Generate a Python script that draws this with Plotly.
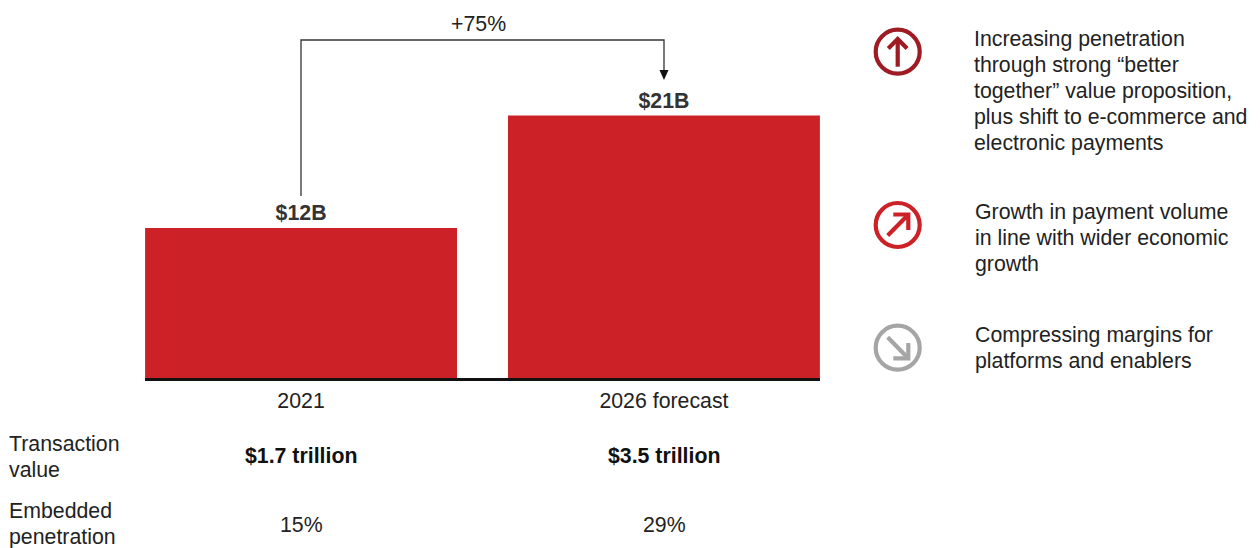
import plotly.graph_objects as go

W, H = 1260, 548

# Chart data
years = ["2021", "2026 forecast"]
revenue_b = [12, 21]
revenue_labels = ["$12B", "$21B"]
growth_label = "+75%"
row_names = [["Transaction", "value"], ["Embedded", "penetration"]]
transaction_value = ["$1.7 trillion", "$3.5 trillion"]
embedded_penetration = ["15%", "29%"]
drivers = [
    ["Increasing penetration", "through strong “better", "together” value proposition,",
     "plus shift to e-commerce and", "electronic payments"],
    ["Growth in payment volume", "in line with wider economic", "growth"],
    ["Compressing margins for", "platforms and enablers"],
]

# Styling
FONT = "Liberation Sans, Arial, sans-serif"
SIZE = 21.3
RED = "#cc2127"
DARK_RED = "#9e1b23"
GRAY = "#a5a5a5"
TEXT = "#222222"
BRACKET = "#333333"
PX_PER_UNIT = 12.5
PLOT_LEFT, PLOT_RIGHT, PLOT_BOTTOM = 145, 820, 378
LINE_GAP = 26


def px(x):
    return x / W


def py(y):
    return 1 - y / H


def line(x0, y0, x1, y1, color, width):
    return dict(type="line", xref="paper", yref="paper",
                x0=px(x0), y0=py(y0), x1=px(x1), y1=py(y1),
                line=dict(color=color, width=width), layer="above")


def label(x, y, text, size=SIZE, bold=False, anchor="center", color=TEXT):
    return dict(xref="paper", yref="paper", x=px(x), y=py(y), text=f"<b>{text}</b>" if bold else text,
                showarrow=False, xanchor=anchor, yanchor="middle", borderpad=0,
                font=dict(family=FONT, size=size, color=color))


def text_block(x, first_y, lines):
    return [label(x, first_y + i * LINE_GAP, t, anchor="left") for i, t in enumerate(lines)]


def ring(cx, cy, color):
    r = 22
    return dict(type="circle", xref="paper", yref="paper",
                x0=px(cx - r), x1=px(cx + r), y0=py(cy - r), y1=py(cy + r),
                line=dict(color=color, width=4.2), fillcolor="rgba(0,0,0,0)", layer="above")


def polyline(points, color, width):
    path = "M " + " L ".join(f"{px(x):.5f},{py(y):.5f}" for x, y in points)
    return dict(type="path", xref="paper", yref="paper", path=path,
                line=dict(color=color, width=width), layer="above")


fig = go.Figure(go.Bar(
    x=years, y=revenue_b, marker=dict(color=RED, line=dict(width=0)),
    text=revenue_labels, textposition="outside", cliponaxis=False,
    textfont=dict(family=FONT, size=SIZE, color="#333333", weight="bold"),
    hoverinfo="skip",
))

CX0, CX1 = 301, 664

shapes = [
    # Growth bracket between the two columns
    polyline([(CX0, 196), (CX0, 40), (CX1, 40), (CX1, 72)], BRACKET, 1.3),
    dict(type="path", xref="paper", yref="paper",
         path=f"M {px(CX1-4.5):.5f},{py(70):.5f} L {px(CX1+4.5):.5f},{py(70):.5f} L {px(CX1):.5f},{py(80):.5f} Z",
         fillcolor="#111111", line=dict(width=0), layer="above"),
    # Up arrow icon
    ring(897.7, 51.7, DARK_RED),
    line(897.7, 66.7, 897.7, 40, DARK_RED, 4.2),
    polyline([(888.3, 48.5), (897.7, 39), (907.1, 48.5)], DARK_RED, 4.2),
    # Up-right arrow icon
    ring(897.7, 225, RED),
    line(887.7, 235.5, 906.5, 216.5, RED, 4.2),
    polyline([(893.3, 214.5), (908.3, 214.5), (908.3, 230)], RED, 4.2),
    # Down-right arrow icon
    ring(897.7, 347.7, GRAY),
    line(887.7, 337.3, 906.5, 356.5, GRAY, 4.2),
    polyline([(908.3, 343), (908.3, 358.3), (893.3, 358.3)], GRAY, 4.2),
]

annotations = [label(478, 24, growth_label)]
annotations += text_block(8, 444, row_names[0])
annotations += text_block(8, 511, row_names[1])
annotations += text_block(973, 39, drivers[0])
annotations += text_block(974, 212, drivers[1])
annotations += text_block(974, 335, drivers[2])
for cx, tv, pen in zip((CX0, CX1), transaction_value, embedded_penetration):
    annotations.append(label(cx, 456, tv, bold=True, color="#111111"))
    annotations.append(label(cx, 525, pen))

fig.update_layout(
    width=W, height=H, autosize=False,
    margin=dict(l=0, r=0, t=0, b=0, pad=0),
    paper_bgcolor="white", plot_bgcolor="white",
    showlegend=False, bargap=51 / 363,
    font=dict(family=FONT, size=SIZE, color=TEXT),
    xaxis=dict(type="category", domain=[PLOT_LEFT / W, PLOT_RIGHT / W], range=[-0.43, 1.43],
               showgrid=False, zeroline=False, showline=True, linecolor="#111111", linewidth=3,
               ticks="", fixedrange=True, ticklabelstandoff=1, automargin=False,
               tickfont=dict(family=FONT, size=SIZE, color=TEXT)),
    yaxis=dict(domain=[1 - PLOT_BOTTOM / H, 1], range=[0, PLOT_BOTTOM / PX_PER_UNIT],
               visible=False, fixedrange=True),
    shapes=shapes, annotations=annotations,
)

fig.write_html("out.html", config=dict(displayModeBar=False))
